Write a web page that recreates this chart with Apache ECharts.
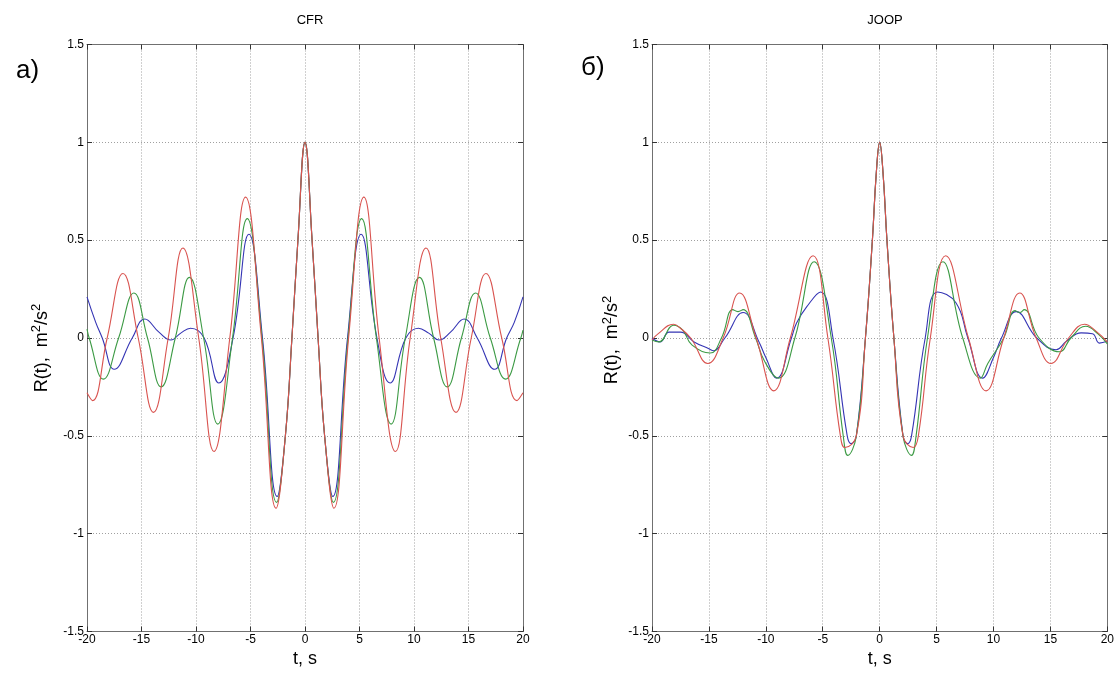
<!DOCTYPE html>
<html>
<head>
<meta charset="utf-8">
<script src="https://cdn.jsdelivr.net/npm/echarts@6/dist/echarts.min.js"></script>
<style>
html,body{margin:0;padding:0;background:#fff;}
#chart{width:1117px;height:674px;}
</style>
</head>
<body>
<div id="chart"></div>
<script>
// ---- data (t in s, R(t) in m^2/s^2) ----
const xTicks = [-20, -15, -10, -5, 0, 5, 10, 15, 20];
const yTicks = [-1.5, -1, -0.5, 0, 0.5, 1, 1.5];
const panelTitles = ['CFR', 'JOOP'];
const panelLetters = ['а)', 'б)'];

const cfrRed = [[-20,-0.28],[-19.5,-0.32],[-18.15,0],[-16.7,0.33],[-15.3,0],[-13.9,-0.38],[-12.55,0],[-11.2,0.46],[-9.75,0],[-8.35,-0.58],[-6.9,0],[-5.45,0.72],[-4.0,0],[-2.65,-0.87],[-1.8,-0.5],[-1.2,0],[-0.65,0.5],[0,1],[0.65,0.5],[1.2,0],[1.8,-0.5],[2.65,-0.87],[4.0,0],[5.4,0.72],[6.8,0],[8.3,-0.58],[9.65,0],[11.1,0.46],[12.45,0],[13.85,-0.38],[15.25,0],[16.6,0.33],[18.05,0],[19.45,-0.32],[20,-0.28]];
const cfrGreen = [[-20,0.045],[-19.8,0],[-18.5,-0.21],[-17.1,0],[-15.7,0.23],[-14.45,0],[-13.2,-0.25],[-11.9,0],[-10.6,0.31],[-9.3,0],[-8.0,-0.44],[-6.65,0],[-5.3,0.61],[-3.95,0],[-2.6,-0.84],[-1.8,-0.5],[-1.2,0],[-0.65,0.5],[0,1],[0.65,0.5],[1.2,0],[1.8,-0.5],[2.6,-0.84],[3.95,0],[5.2,0.61],[6.55,0],[7.9,-0.44],[9.2,0],[10.5,0.31],[11.8,0],[13.05,-0.25],[14.35,0],[15.65,0.23],[17.0,0],[18.4,-0.21],[19.8,0],[20,0.04]];
const cfrBlue = [[-20,0.21],[-19.2,0.08],[-18.6,0],[-17.5,-0.16],[-15.85,0],[-14.7,0.097],[-13.4,0.03],[-12.3,-0.01],[-11.4,0.025],[-10.5,0.05],[-9.25,0],[-7.9,-0.23],[-6.6,0],[-5.15,0.53],[-3.9,0],[-2.55,-0.81],[-1.8,-0.5],[-1.2,0],[-0.65,0.5],[0,1],[0.65,0.5],[1.2,0],[1.8,-0.5],[2.55,-0.81],[3.9,0],[5.15,0.53],[6.6,0],[7.8,-0.23],[9.25,0],[10.4,0.05],[11.35,0.025],[12.3,-0.01],[13.35,0.03],[14.6,0.097],[15.8,0],[17.4,-0.16],[18.5,0],[19.2,0.08],[20,0.21]];

const joopRed = [[-20,-0.01],[-19.5,0.02],[-18.1,0.07],[-17.5,0.05],[-16.6,0],[-15.1,-0.13],[-13.75,0],[-12.3,0.23],[-10.85,0],[-9.3,-0.27],[-7.85,0],[-5.85,0.42],[-4.55,0],[-3.45,-0.5],[-3.05,-0.56],[-2.05,-0.5],[-1.25,0],[-0.64,0.5],[-0.3,0.84],[0,1],[0.3,0.84],[0.64,0.5],[1.25,0],[2.05,-0.5],[2.95,-0.56],[3.4,-0.5],[4.45,0],[5.8,0.42],[7.8,0],[9.35,-0.27],[10.9,0],[12.3,0.23],[13.75,0],[15.05,-0.13],[16.6,0],[18.0,0.07],[19.0,0.035],[20,-0.02]];
const joopGreen = [[-20,-0.01],[-19.4,-0.02],[-18.1,0.065],[-17.3,0.04],[-16.5,-0.035],[-14.9,-0.077],[-13.9,0],[-12.9,0.145],[-12.45,0.135],[-12.0,0.145],[-10.9,0],[-10.1,-0.12],[-8.9,-0.205],[-7.45,0],[-5.75,0.39],[-4.25,0],[-3.2,-0.5],[-2.8,-0.6],[-2.05,-0.5],[-1.25,0],[-0.64,0.5],[-0.3,0.84],[0,1],[0.3,0.84],[0.64,0.5],[1.25,0],[2.05,-0.5],[2.8,-0.6],[3.2,-0.5],[4.2,0],[5.55,0.39],[7.3,0],[8.85,-0.205],[9.5,-0.13],[10.9,0],[11.9,0.14],[12.3,0.13],[12.7,0.145],[14.0,0],[15.8,-0.07],[16.8,0],[18.1,0.06],[19.2,0.02],[20,-0.03]];
const joopBlue = [[-20,0.0],[-19.3,-0.02],[-18.5,0.03],[-17.5,0.03],[-16.3,-0.02],[-15.0,-0.055],[-14.6,-0.065],[-13.6,0],[-12.0,0.13],[-10.6,-0.02],[-10.0,-0.1],[-9.05,-0.205],[-7.75,0],[-7.3,0.077],[-6.4,0.16],[-5.2,0.235],[-4.1,0],[-2.85,-0.5],[-2.5,-0.54],[-2.05,-0.5],[-1.25,0],[-0.64,0.5],[-0.3,0.84],[0,1],[0.3,0.84],[0.64,0.5],[1.25,0],[2.05,-0.5],[2.45,-0.54],[2.8,-0.5],[4.0,0],[5.1,0.235],[6.7,0.18],[7.75,0],[9.05,-0.205],[10.0,-0.1],[10.7,0],[12.0,0.135],[13.8,0],[15.5,-0.06],[16.4,-0.017],[17.7,0.026],[18.7,0.022],[19.3,-0.026],[20,-0.017]];

const RED = '#d9534f', GREEN = '#3c9a44', BLUE = '#3434b4';
const NARROW = "'Liberation Sans Narrow','Liberation Sans',Arial,sans-serif";
const SANS = "'Liberation Sans',Arial,sans-serif";

const grids = [
  {left: 87, top: 44.5, width: 436, height: 587},
  {left: 652, top: 44.5, width: 456, height: 587}
];

const xAxes = [], yAxes = [];
const yNameGap = [33, 21];
grids.forEach((g, i) => {
  const tick = {show: true, inside: true, length: 5, lineStyle: {color: '#333'}};
  const line = {show: true, onZero: false, lineStyle: {color: '#707070', width: 1}};
  const split = {show: true, lineStyle: {color: '#a0a0a0', type: [1, 2], width: 1}};
  xAxes.push({
    type: 'value', gridIndex: i, position: 'bottom',
    min: xTicks[0], max: xTicks[xTicks.length - 1], interval: 5,
    axisLine: line, axisTick: tick, splitLine: split,
    axisLabel: {color: '#000', fontSize: 12, fontFamily: NARROW, margin: 2},
    name: 't, s', nameLocation: 'middle', nameGap: 17,
    nameTextStyle: {color: '#000', fontSize: 18, fontFamily: SANS}
  });
  xAxes.push({
    type: 'value', gridIndex: i, position: 'top',
    min: xTicks[0], max: xTicks[xTicks.length - 1], interval: 5,
    axisLine: line, axisTick: tick, splitLine: {show: false}, axisLabel: {show: false}
  });
  yAxes.push({
    type: 'value', gridIndex: i, position: 'left',
    min: yTicks[0], max: yTicks[yTicks.length - 1], interval: 0.5,
    axisLine: line, axisTick: tick, splitLine: split,
    axisLabel: {color: '#000', fontSize: 12, fontFamily: NARROW, margin: 3},
    name: 'R(t),  m{sup|2}/s{sup|2}', nameLocation: 'middle', nameGap: yNameGap[i], nameRotate: 90,
    nameTextStyle: {
      color: '#000', fontSize: 18, fontFamily: SANS, lineHeight: 24,
      padding: i === 0 ? [0, 20, 0, 0] : [0, 4, 0, 0],
      rich: {sup: {fontSize: 13, fontFamily: SANS, color: '#000', verticalAlign: 'top', lineHeight: 14}}
    }
  });
  yAxes.push({
    type: 'value', gridIndex: i, position: 'right',
    min: yTicks[0], max: yTicks[yTicks.length - 1], interval: 0.5,
    axisLine: line, axisTick: tick, splitLine: {show: false}, axisLabel: {show: false}
  });
});

function mk(data, color, panel) {
  return {
    type: 'line', data: data, xAxisIndex: panel * 2, yAxisIndex: panel * 2,
    smooth: 0.45, showSymbol: false, symbol: 'none', animation: false,
    lineStyle: {color: color, width: 1.1}, z: 3
  };
}

const option = {
  backgroundColor: '#fff',
  animation: false,
  title: [
    {text: panelTitles[0], left: 305, top: 9, textAlign: 'center', textStyle: {fontSize: 13, fontWeight: 'normal', color: '#000', fontFamily: NARROW}},
    {text: panelTitles[1], left: 880, top: 9, textAlign: 'center', textStyle: {fontSize: 13, fontWeight: 'normal', color: '#000', fontFamily: NARROW}},
    {text: panelLetters[0], left: 11, top: 53, textStyle: {fontSize: 26, fontWeight: 'normal', color: '#000', fontFamily: SANS}},
    {text: panelLetters[1], left: 576, top: 50, textStyle: {fontSize: 26, fontWeight: 'normal', color: '#000', fontFamily: SANS}}
  ],
  grid: grids,
  xAxis: xAxes,
  yAxis: yAxes,
  series: [
    mk(cfrBlue, BLUE, 0), mk(cfrGreen, GREEN, 0), mk(cfrRed, RED, 0),
    mk(joopBlue, BLUE, 1), mk(joopGreen, GREEN, 1), mk(joopRed, RED, 1)
  ]
};

const chart = echarts.init(document.getElementById('chart'), null, {renderer: 'canvas'});
chart.setOption(option);
</script>
</body>
</html>
